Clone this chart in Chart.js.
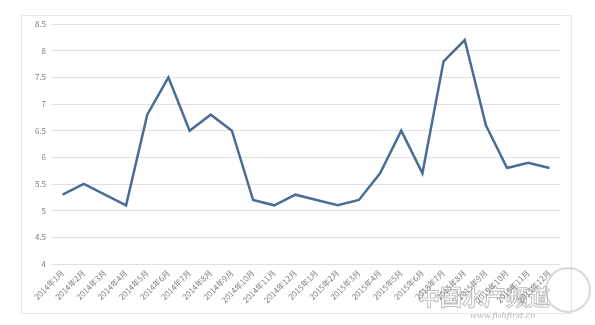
<!DOCTYPE html>
<html>
<head>
<meta charset="utf-8">
<script src="https://cdn.jsdelivr.net/npm/chart.js@4/dist/chart.umd.min.js"></script>
<style>
  html, body { margin: 0; padding: 0; background: #fff; }
  #wrap { width: 595px; height: 325px; position: relative; }
</style>
</head>
<body>
<div id="wrap"><canvas id="priceChart"></canvas></div>
<script>
/* Data */
const months = [
    '2014年1月', '2014年2月', '2014年3月', '2014年4月', '2014年5月', '2014年6月',
    '2014年7月', '2014年8月', '2014年9月', '2014年10月', '2014年11月', '2014年12月',
    '2015年1月', '2015年2月', '2015年3月', '2015年4月', '2015年5月', '2015年6月',
    '2015年7月', '2015年8月', '2015年9月', '2015年10月', '2015年11月', '2015年12月'
];
const prices = [
    5.3, 5.5, 5.3, 5.1, 6.8, 7.5, 6.5, 6.8, 6.5, 5.2, 5.1, 5.3,
    5.2, 5.1, 5.2, 5.7, 6.5, 5.7, 7.8, 8.2, 6.6, 5.8, 5.9, 5.8
];
const Y_MIN = 4;
const Y_MAX = 8.5;
const Y_STEP = 0.5;

const FONT = '"Noto Sans CJK SC", "Noto Sans", sans-serif';

/* Light frame around the chart, plus the faint watermark */
const framePlugin = {
    id: 'frame',
    beforeDraw(chart) {
        const ctx = chart.ctx;
        ctx.save();
        ctx.fillStyle = '#ffffff';
        ctx.fillRect(0, 0, chart.width, chart.height);
        ctx.strokeStyle = '#e6e6e6';
        ctx.lineWidth = 1;
        ctx.strokeRect(21.5, 15.5, 550, 298);
        ctx.restore();
    },
    afterDraw(chart) {
        const ctx = chart.ctx;
        ctx.save();
        ctx.font = 'bold 22px ' + FONT;
        ctx.strokeStyle = 'rgba(150,150,150,0.6)';
        ctx.lineWidth = 1;
        ctx.strokeText('中国水产频道', 418, 305);
        ctx.font = 'italic 8px "DejaVu Serif", serif';
        ctx.fillStyle = 'rgba(150,150,150,0.7)';
        ctx.fillText('www.fishfirst.cn', 470, 318);
        ctx.beginPath();
        ctx.arc(568, 290, 22, 0, Math.PI * 2);
        ctx.strokeStyle = 'rgba(190,190,190,0.6)';
        ctx.lineWidth = 2;
        ctx.stroke();
        ctx.restore();
    }
};

const config = {
    type: 'line',
    data: {
        labels: months,
        datasets: [{
            label: '价格',
            data: prices,
            borderColor: 'rgb(74,109,150)',
            backgroundColor: 'rgb(74,109,150)',
            borderWidth: 2.5,
            pointRadius: 0,
            tension: 0
        }]
    },
    options: {
        responsive: false,
        animation: false,
        layout: { padding: { left: 22, right: 35, top: 24, bottom: 0 } },
        plugins: {
            legend: { display: false },
            tooltip: { enabled: false }
        },
        scales: {
            x: {
                offset: true,
                grid: { display: false, drawTicks: false },
                border: { display: false },
                ticks: {
                    autoSkip: false,
                    maxRotation: 45,
                    minRotation: 45,
                    padding: 4,
                    color: '#7f7f7f',
                    font: { family: FONT, size: 8 }
                },
                afterFit(scale) { scale.height = 61; }
            },
            y: {
                min: Y_MIN,
                max: Y_MAX,
                grid: { color: '#e0e0e0', drawTicks: false },
                border: { display: false },
                ticks: {
                    stepSize: Y_STEP,
                    padding: 6,
                    color: '#7f7f7f',
                    font: { family: FONT, size: 8 },
                    callback: (v) => String(v)
                },
                afterFit(scale) { scale.width = 30; }
            }
        }
    },
    plugins: [framePlugin]
};

const canvas = document.getElementById('priceChart');
canvas.width = 595;
canvas.height = 325;
const priceChart = new Chart(canvas, config);
</script>
</body>
</html>
